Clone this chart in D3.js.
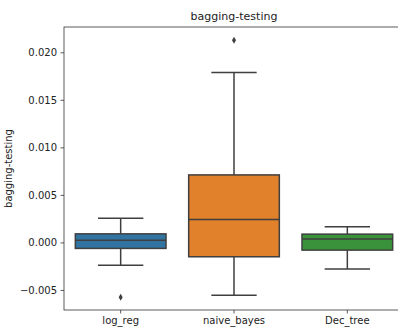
<!DOCTYPE html>
<html><head><meta charset="utf-8">
<script src="https://cdn.jsdelivr.net/npm/d3@7"></script>
<style>body{margin:0;background:#fff}svg{display:block}text{font-family:"DejaVu Sans",sans-serif}</style>
</head><body><svg id="c" width="398" height="330"></svg>
<script>
const categories = ["log_reg", "naive_bayes", "Dec_tree"];
const whiskerLow = [-0.00239, -0.00557, -0.00281];
const q1 = [-0.00063, -0.00151, -0.00081];
const medians = [0.00024, 0.00242, 0.00035];
const q3 = [0.0009, 0.0071, 0.00087];
const whiskerHigh = [0.00255, 0.01787, 0.00164];
const outliers = [[-0.00578], [0.02126], []];
const colors = ["#3274a1", "#e1812c", "#3a923a"];
const yTicks = [-0.005, 0.000, 0.005, 0.010, 0.015, 0.020];
const title = "bagging-testing";
const yLabel = "bagging-testing";

const svg = d3.select("#c");
const L = 64, R = 404, T = 27, B = 310;
const x = d3.scaleBand().domain(categories).range([L, R]).paddingInner(0).paddingOuter(0);
const y = d3.scaleLinear().domain([-0.00711, 0.02266]).range([B, T]);
const line = "#3f3f3f";

const bw = x.bandwidth() * 0.8;
categories.forEach((c, i) => {
  const cx = x(c) + x.bandwidth() / 2;
  const g = svg.append("g");
  g.append("line").attr("x1", cx).attr("x2", cx).attr("y1", y(q3[i])).attr("y2", y(whiskerHigh[i])).attr("stroke", line).attr("stroke-width", 1.5);
  g.append("line").attr("x1", cx).attr("x2", cx).attr("y1", y(q1[i])).attr("y2", y(whiskerLow[i])).attr("stroke", line).attr("stroke-width", 1.5);
  const cw = bw / 2;
  g.append("line").attr("x1", cx - cw / 2).attr("x2", cx + cw / 2).attr("y1", y(whiskerHigh[i])).attr("y2", y(whiskerHigh[i])).attr("stroke", line).attr("stroke-width", 1.5);
  g.append("line").attr("x1", cx - cw / 2).attr("x2", cx + cw / 2).attr("y1", y(whiskerLow[i])).attr("y2", y(whiskerLow[i])).attr("stroke", line).attr("stroke-width", 1.5);
  g.append("rect").attr("x", cx - bw / 2).attr("width", bw).attr("y", y(q3[i])).attr("height", y(q1[i]) - y(q3[i]))
    .attr("fill", colors[i]).attr("stroke", line).attr("stroke-width", 1.5);
  g.append("line").attr("x1", cx - bw / 2).attr("x2", cx + bw / 2).attr("y1", y(medians[i])).attr("y2", y(medians[i])).attr("stroke", line).attr("stroke-width", 1.5);
  outliers[i].forEach(v => {
    g.append("path").attr("transform", `translate(${cx},${y(v)})`).attr("d", "M0,-3.5L2,0L0,3.5L-2,0Z").attr("fill", line);
  });
});

// axes
const ya = svg.append("g").attr("transform", `translate(${L},0)`)
  .call(d3.axisLeft(y).tickValues(yTicks).tickSize(3.5).tickPadding(3.5).tickFormat(d3.format(".3f")));
const xa = svg.append("g").attr("transform", `translate(0,${B})`)
  .call(d3.axisBottom(x).tickSize(3.5).tickPadding(3.5));
[ya, xa].forEach(a => {
  a.select(".domain").remove();
  a.selectAll("line").attr("stroke", "#333").attr("stroke-width", 0.8);
  a.selectAll("text").attr("font-size", 10).attr("fill", "#222").attr("font-family", "DejaVu Sans");
});
ya.selectAll("text").text(d => d3.format(".3f")(d).replace("-", "\u2212"));
// spines
svg.append("rect").attr("x", L).attr("y", T).attr("width", R - L).attr("height", B - T).attr("fill", "none").attr("stroke", "#333").attr("stroke-width", 0.8);

svg.append("text").attr("x", (L + R) / 2).attr("y", T - 7).attr("text-anchor", "middle").attr("font-size", 11).attr("fill", "#222").text(title);
svg.append("text").attr("transform", `translate(12,${(T + B) / 2}) rotate(-90)`).attr("text-anchor", "middle").attr("font-size", 10).attr("fill", "#222").text(yLabel);
</script></body></html>
